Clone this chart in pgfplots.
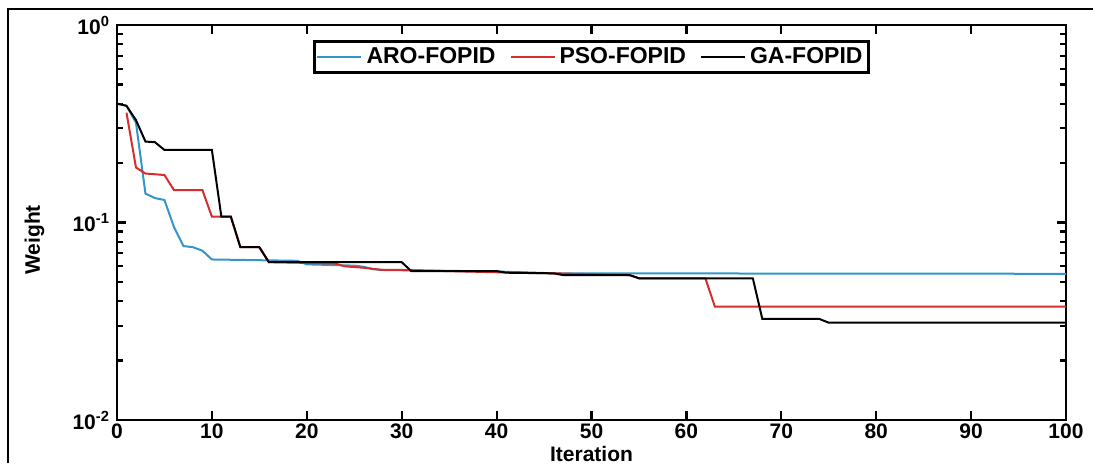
\documentclass[border=0pt]{standalone}
\usepackage{pgfplots}
\pgfplotsset{compat=1.18}
\usepackage{fontspec}
\setmainfont{Liberation Sans}
\definecolor{aro}{RGB}{52,150,200}
\definecolor{pso}{RGB}{215,45,45}
\begin{document}
\begin{tikzpicture}
\useasboundingbox (-58.5pt,-21.5pt) rectangle (488pt,210pt);
\draw[line width=1pt] (-54.5pt,-21.5pt) -- (-54.5pt,205.5pt) -- (488pt,205.5pt);
\begin{axis}[
  at={(0,0)}, anchor=south west,
  scale only axis, width=474.5pt, height=197.5pt,
  xmin=0, xmax=100, ymin=0.01, ymax=1,
  ymode=log,
  xtick={0,10,...,100},
  ytick={0.01,0.1,1},
  minor ytick={0.02,0.03,0.04,0.05,0.06,0.07,0.08,0.09,0.2,0.3,0.4,0.5,0.6,0.7,0.8,0.9},
  yticklabels={10\textsuperscript{-2},10\textsuperscript{-1},10\textsuperscript{0}},
  tick align=inside,
  major tick length=4.5pt, minor tick length=3pt,
  axis line style={line width=1.4pt},
  every tick/.style={black, line width=1.1pt},
  /pgf/number format/assume math mode=true,
  tick label style={font=\bfseries\fontsize{10.5}{12}\selectfont},
  xticklabel style={yshift=1.5pt},
  xlabel={Iteration}, ylabel={Weight},
  label style={font=\bfseries\fontsize{10.5}{12}\selectfont},
  xlabel style={at={(axis description cs:0.5,-0.086)}, anchor=center},
  ylabel style={at={(axis description cs:-0.087,0.456)}, anchor=center},
  legend style={at={(0.5,0.962)}, anchor=north, legend columns=3,
    draw=black, line width=1.4pt, inner sep=1pt,
    font=\bfseries\fontsize{11.5}{12}\selectfont,
    /tikz/every even column/.append style={column sep=5pt}},
  legend image code/.code={\draw[#1] (0pt,0pt) -- (22pt,0pt);},
]
\addplot[aro, line width=1pt] coordinates {
(0,0.40) (1,0.39) (2,0.32) (3,0.14) (4,0.133) (5,0.130) (6,0.095) (7,0.076)
(8,0.075) (9,0.072) (10,0.065) (19,0.064) (20,0.0614) (25,0.0605) (26,0.0597)
(27,0.0580) (28,0.0575) (40,0.0565) (46,0.0553) (100,0.0550)};
\addlegendentry{ARO-FOPID}
\addplot[pso, line width=1pt] coordinates {
(1,0.36) (2,0.19) (3,0.177) (5,0.174) (6,0.146) (9,0.146) (10,0.107) (12,0.107)
(13,0.075) (15,0.075) (16,0.063) (19,0.0626) (23,0.0620) (24,0.0600) (26,0.0590)
(28,0.0575) (30,0.0575) (40,0.0560) (46,0.0553) (54,0.0542) (55,0.0522)
(62,0.0522) (63,0.0375) (100,0.0375)};
\addlegendentry{PSO-FOPID}
\addplot[black, line width=1pt] coordinates {
(0,0.40) (1,0.39) (2,0.33) (3,0.257) (4,0.255) (5,0.233) (10,0.233) (11,0.107)
(12,0.107) (13,0.075) (15,0.075) (16,0.063) (30,0.063) (31,0.0568) (40,0.0568)
(41,0.0557) (46,0.0553) (47,0.0542) (54,0.0542) (55,0.0522) (67,0.0522)
(68,0.0325) (74,0.0325) (75,0.0311) (100,0.0311)};
\addlegendentry{GA-FOPID}
\end{axis}
\end{tikzpicture}
\end{document}
